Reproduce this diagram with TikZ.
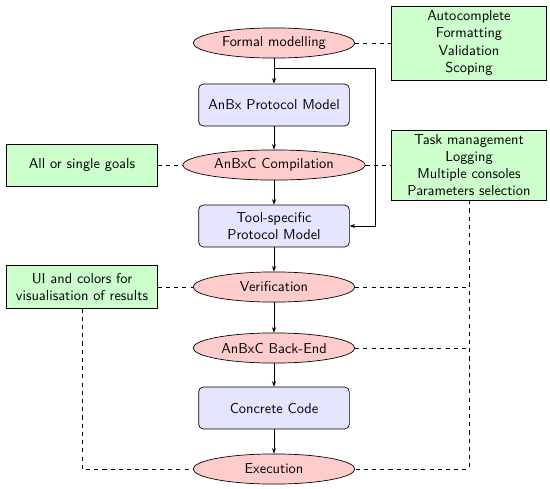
\documentclass[tikz,border=0pt]{standalone}
\usetikzlibrary{shapes.geometric,arrows.meta}
\begin{document}
\begin{tikzpicture}[x=0.73pt,y=-0.73pt,font=\sffamily\fontsize{10.5}{12.6}\selectfont,
  every node/.style={line width=0.5pt},
  proc/.style={ellipse,draw,fill=red!20,inner sep=0pt,minimum width=118pt,minimum height=22pt},
  model/.style={rectangle,rounded corners=3.5pt,draw,fill=blue!10,minimum width=110pt,minimum height=30.7pt,align=center,inner sep=2pt},
  feat/.style={rectangle,draw,fill=green!20,minimum width=110pt,align=center,inner sep=2pt},
  flow/.style={-{Stealth[length=4pt,width=3pt]},line width=0.5pt},
  link/.style={dashed,line width=0.5pt}]
\useasboundingbox (0,0) rectangle (550,488);
\node[proc] (fm) at (274,43) {Formal modelling};
\node[feat,minimum width=113pt,minimum height=54pt] (ac) at (469,43) {Autocomplete\\Formatting\\Validation\\Scoping};
\node[model] (apm) at (274,105) {AnBx Protocol Model};
\node[proc,minimum width=133pt] (comp) at (274,165) {AnBxC Compilation};
\node[feat,minimum height=30.7pt] (goals) at (82,165) {All or single goals};
\node[feat,minimum width=113pt,minimum height=51pt] (task) at (469,165) {Task management\\Logging\\Multiple consoles\\Parameters selection};
\node[model] (tpm) at (274,226) {Tool-specific\\Protocol Model};
\node[proc] (ver) at (274,287) {Verification};
\node[feat,minimum height=31pt] (ui) at (82,287) {UI and colors for\\visualisation of results};
\node[proc] (be) at (274,348) {AnBxC Back-End};
\node[model] (cc) at (274,408) {Concrete Code};
\node[proc] (ex) at (274,469) {Execution};
\coordinate (j1) at (274,68);
\coordinate (j2) at (375,68);
\coordinate (tl) at (469,469);
\coordinate (ul) at (82,469);
\draw[flow] (fm) -- (apm);
\draw[flow] (apm) -- (comp);
\draw[flow] (comp) -- (tpm);
\draw[flow] (tpm) -- (ver);
\draw[flow] (ver) -- (be);
\draw[flow] (be) -- (cc);
\draw[flow] (cc) -- (ex);
\draw[flow] (j1) -- (j2) |- (tpm.east);
\draw[link] (fm) -- (ac);
\draw[link] (comp) -- (task);
\draw[link] (goals) -- (comp);
\draw[link] (ui) -- (ver);
\draw[link] (task.south) -- (tl) -- (ex.east);
\draw[link] (ver.east) -- (ver.east -| tl);
\draw[link] (be.east) -- (be.east -| tl);
\draw[link] (ui.south) -- (ul) -- (ex.west);
\end{tikzpicture}
\end{document}
